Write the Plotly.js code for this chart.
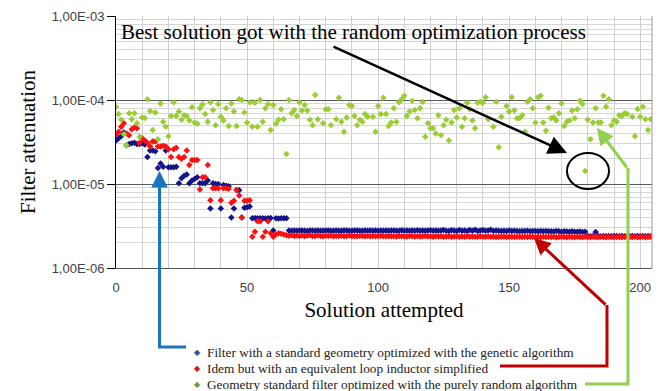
<!DOCTYPE html>
<html><head><meta charset="utf-8">
<script src="https://cdn.plot.ly/plotly-3.0.1.min.js"></script>
<style>html,body{margin:0;padding:0;background:#fff}#chart{width:661px;height:391px}</style>
</head><body><div id="chart"></div>
<script>
// ---- data ----
const blueVals = [
 3.3e-5,3.5e-5,3.7e-5,4.1e-5,2.9e-5,3.0e-5,3.05e-5,3.1e-5,3.0e-5,3.0e-5,
 3.05e-5,2.95e-5,2.1e-5,2.5e-5,2.5e-5,2.45e-5,1.55e-5,1.75e-5,1.6e-5,2.5e-5,
 1.58e-5,1.58e-5,1.58e-5,1.6e-5,1.02e-5,1.17e-5,1.25e-5,1.3e-5,1.02e-5,1.1e-5,
 1.15e-5,1.2e-5,1.02e-5,1.02e-5,1.02e-5,1.1e-5,5.1e-6,1.02e-5,1.0e-5,1.0e-5,
 5.1e-6,9.7e-6,9.5e-6,9.4e-6,4.0e-6,5.1e-6,8.5e-6,8.4e-6,4.0e-6,5.2e-6,
 5.3e-6,5.4e-6,3.9e-6,3.95e-6,3.9e-6,3.92e-6,3.9e-6,3.88e-6,3.9e-6,3.93e-6,
 2.8e-6,3.9e-6,3.88e-6,3.9e-6,3.92e-6,3.9e-6,
 2.8e-6,2.78e-6,2.8e-6,2.77e-6,2.79e-6,2.8e-6,2.78e-6,2.76e-6,2.8e-6,2.79e-6,
 2.78e-6,2.8e-6,2.77e-6,2.78e-6,2.8e-6,2.79e-6,2.77e-6,2.78e-6,2.8e-6,2.78e-6,
 2.77e-6,2.79e-6,2.8e-6,2.78e-6,2.77e-6,2.8e-6,2.79e-6,2.78e-6,2.77e-6,2.8e-6,
 2.78e-6,2.79e-6,2.77e-6,2.8e-6,2.78e-6,2.79e-6,2.77e-6,2.8e-6,2.78e-6,2.79e-6,
 2.8e-6,2.77e-6,2.78e-6,2.82e-6,2.78e-6,2.79e-6,2.77e-6,2.8e-6,2.78e-6,2.81e-6,
 2.78e-6,2.8e-6,2.77e-6,2.79e-6,2.82e-6,2.78e-6,2.8e-6,2.77e-6,2.79e-6,2.83e-6,
 2.78e-6,2.76e-6,2.82e-6,2.79e-6,2.75e-6,2.84e-6,2.78e-6,2.8e-6,2.76e-6,2.83e-6,
 2.78e-6,2.85e-6,2.76e-6,2.8e-6,2.84e-6,2.77e-6,2.79e-6,2.86e-6,2.76e-6,2.8e-6,
 2.77e-6,2.75e-6,2.78e-6,2.76e-6,2.79e-6,2.75e-6,2.77e-6,2.76e-6,2.74e-6,2.76e-6,
 2.75e-6,2.77e-6,2.74e-6,2.76e-6,2.75e-6,2.73e-6,2.76e-6,2.74e-6,2.75e-6,2.73e-6,
 2.74e-6,2.72e-6,2.75e-6,2.73e-6,2.71e-6,2.74e-6,2.72e-6,2.7e-6,2.73e-6,2.71e-6,
 2.7e-6,2.72e-6,2.69e-6,2.71e-6,2.4e-6,2.39e-6,2.41e-6,2.68e-6,
 2.4e-6,2.39e-6,2.41e-6,2.38e-6,2.4e-6,2.39e-6,2.41e-6,2.4e-6,2.38e-6,2.4e-6,
 2.39e-6,2.41e-6,2.38e-6,2.4e-6,2.39e-6,2.4e-6,2.38e-6,2.41e-6,2.39e-6,2.4e-6,2.38e-6
];
const redVals = [
 3.9e-5,4.2e-5,4.8e-5,5.3e-5,4.0e-5,3.8e-5,4.5e-5,4.7e-5,4.6e-5,3.1e-5,
 3.5e-5,3.3e-5,3.1e-5,2.8e-5,3.2e-5,3.2e-5,2.8e-5,2.8e-5,2.85e-5,2.8e-5,
 2.6e-5,2.1e-5,2.6e-5,2.7e-5,2.1e-5,2.0e-5,2.1e-5,2.5e-5,1.68e-5,1.93e-5,
 1.93e-5,1.93e-5,8.6e-6,1.2e-5,1.2e-5,1.68e-5,6.4e-6,8.9e-6,8.9e-6,8.9e-6,
 6.4e-6,8.9e-6,8.9e-6,8.8e-6,6.0e-6,6.3e-6,8.5e-6,7.3e-6,4.0e-6,6.3e-6,
 6.3e-6,6.4e-6,2.36e-6,2.7e-6,3.6e-6,3.6e-6,2.36e-6,2.7e-6,3.6e-6,2.6e-6,
 2.36e-6,2.5e-6,2.6e-6,2.55e-6,2.5e-6,2.45e-6,
 2.42e-6,2.45e-6,2.4e-6,2.43e-6,2.41e-6,2.44e-6,2.4e-6,2.42e-6,2.45e-6,2.41e-6,
 2.4e-6,2.43e-6,2.41e-6,2.39e-6,2.42e-6,2.4e-6,2.44e-6,2.39e-6,2.41e-6,2.4e-6,
 2.42e-6,2.39e-6,2.4e-6,2.43e-6,2.38e-6,2.41e-6,2.39e-6,2.4e-6,2.42e-6,2.38e-6,
 2.4e-6,2.39e-6,2.41e-6,2.38e-6,2.4e-6,2.42e-6,2.38e-6,2.39e-6,2.41e-6,2.38e-6,
 2.39e-6,2.37e-6,2.4e-6,2.38e-6,2.39e-6,2.37e-6,2.41e-6,2.38e-6,2.37e-6,2.39e-6,
 2.37e-6,2.38e-6,2.4e-6,2.37e-6,2.38e-6,2.36e-6,2.39e-6,2.37e-6,2.38e-6,2.36e-6,
 2.37e-6,2.39e-6,2.36e-6,2.37e-6,2.38e-6,2.36e-6,2.37e-6,2.35e-6,2.38e-6,2.36e-6,
 2.37e-6,2.35e-6,2.36e-6,2.38e-6,2.35e-6,2.36e-6,2.37e-6,2.35e-6,2.36e-6,2.34e-6,
 2.36e-6,2.35e-6,2.37e-6,2.34e-6,2.35e-6,2.36e-6,2.34e-6,2.35e-6,2.36e-6,2.34e-6,
 2.35e-6,2.34e-6,2.36e-6,2.35e-6,2.34e-6,2.35e-6,2.33e-6,2.35e-6,2.34e-6,2.36e-6,
 2.34e-6,2.35e-6,2.33e-6,2.34e-6,2.36e-6,2.34e-6,2.33e-6,2.35e-6,2.34e-6,2.33e-6,
 2.35e-6,2.34e-6,2.33e-6,2.35e-6,2.34e-6,2.33e-6,2.35e-6,2.34e-6,2.33e-6,2.35e-6,
 2.34e-6,2.33e-6,2.35e-6,2.34e-6,2.33e-6,2.34e-6,2.35e-6,2.33e-6,2.34e-6,2.35e-6,
 2.33e-6,2.34e-6,2.35e-6,2.33e-6,2.34e-6,2.35e-6,2.33e-6,2.34e-6,2.35e-6
];
const greenX = [
 0,1,2,3,4,5,6,7,8,9,10,11,12,13,14,15,16,17,18,19,20,21,22,23,24,25,26,27,28,29,
 30,31,32,33,34,35,36,37,38,39,40,41,42,43,44,45,46,47,48,49,50,51,52,53,54,55,56,57,58,59,
 60,61,62,63,64,65,66,67,68,69,70,71,72,73,74,75,76,77,79,80,81,82,84,85,86,87,88,89,
 90,91,92,93,94,95,96,98,99,100,101,102,103,104,105,106,107,108,109,110,111,112,113,114,115,116,117,118,119,
 120,121,122,123,124,125,126,127,128,129,130,131,132,133,134,135,136,137,138,139,140,141,142,144,145,146,147,149,
 150,151,152,153,154,155,156,157,158,159,160,161,162,163,164,165,166,167,168,169,170,171,172,173,174,175,176,177,178,179,
 180,181,182,183,184,185,186,187,188,189,190,191,192,193,194,195,197,198,199,200,201,202,203,204
];
const greenVals = [
 8.3e-5,6.8e-5,5.8e-5,3.9e-5,2.9e-5,6.95e-5,5.9e-5,6.95e-5,5.3e-5,3.66e-5,6.2e-5,6.1e-5,1.02e-4,7.4e-5,4.4e-5,7.1e-5,3.4e-5,9.1e-5,5.5e-5,4.8e-5,3.7e-5,6.45e-5,9.4e-5,6.45e-5,7.3e-5,5.8e-5,6.6e-5,6.45e-5,5.7e-5,8.2e-5,
 5.4e-5,5.2e-5,8.0e-5,8.9e-5,6.8e-5,5.5e-5,9.4e-5,7.6e-5,5.0e-5,8.96e-5,6.3e-5,5.7e-5,8.0e-5,4.9e-5,9.1e-5,7.3e-5,4.9e-5,1.02e-4,1.0e-4,7.1e-5,5.4e-5,9.4e-5,4.8e-5,9.3e-5,4.8e-5,1.0e-4,5.5e-5,8.0e-5,8.96e-5,4.4e-5,
 8.7e-5,5.2e-5,5.8e-5,7.75e-5,5.9e-5,2.28e-5,1.0e-4,6.95e-5,7.6e-5,6.45e-5,9.4e-5,7.5e-5,8.7e-5,7.5e-5,5.8e-5,5.0e-5,1.15e-4,5.9e-5,5.3e-5,7.75e-5,7.75e-5,5.0e-5,5.9e-5,1.06e-4,5.5e-5,4.2e-5,6.2e-5,8.7e-5,
 8.5e-5,6.45e-5,5.0e-5,5.8e-5,5.5e-5,6.8e-5,6.3e-5,6.3e-5,4.2e-5,8.5e-5,6.8e-5,1.06e-4,6.8e-5,4.9e-5,5.4e-5,8.0e-5,5.5e-5,9.4e-5,1.02e-4,1.12e-4,6.45e-5,7.3e-5,9.8e-5,7.6e-5,6.05e-5,8.0e-5,9.5e-5,3.66e-5,5.3e-5,
 4.6e-5,4.6e-5,4.0e-5,6.6e-5,3.8e-5,5.0e-5,5.8e-5,3.3e-5,5.4e-5,7.6e-5,6.2e-5,8.0e-5,4.8e-5,6.05e-5,9.3e-5,7.75e-5,5.7e-5,4.6e-5,9.3e-5,9.5e-5,9.3e-5,1.08e-4,5.9e-5,4.8e-5,9.5e-5,2.74e-5,6.3e-5,8.5e-5,
 7.3e-5,1.08e-4,7.5e-5,6.05e-5,6.05e-5,6.6e-5,4.2e-5,9.5e-5,1.02e-4,8.0e-5,5.4e-5,1.08e-4,1.12e-4,5.4e-5,4.3e-5,8.1e-5,6.05e-5,6.2e-5,5.7e-5,6.95e-5,9.1e-5,4.9e-5,5.5e-5,5.7e-5,7.5e-5,6.05e-5,7.75e-5,9.8e-5,8.96e-5,1.43e-5,
 5.8e-5,3.4e-5,5.4e-5,8.0e-5,5.4e-5,5.4e-5,1.12e-4,8.3e-5,1.02e-4,5.0e-5,5.7e-5,5.5e-5,6.6e-5,6.45e-5,6.95e-5,6.8e-5,6.3e-5,3.7e-5,7.8e-5,6.3e-5,8.3e-5,5.9e-5,4.4e-5,5.9e-5
];
const seriesNames = [
 'Filter with a standard geometry optimized with the genetic algorithm',
 'Idem but with an equivalent loop inductor simplified',
 'Geometry standard filter optimized with the purely random algorithm'
];
const yTickVals = [1e-6, 1e-5, 1e-4, 1e-3];
const yTickText = ['1,00E-06', '1,00E-05', '1,00E-04', '1,00E-03'];
const xTickVals = [0, 50, 100, 150, 200];
const xTickText = ['0', '50', '100', '150', '200'];
const calloutText = 'Best solution got with the random optimization process';

// ---- styling / layout ----
const L = 116, T = 16, W = 536, H = 252;
const PX = x => (x - L) / W;
const PY = y => (T + H - y) / H;
const serif = 'Liberation Serif, Times New Roman, serif';
const sans = 'Liberation Sans, Arial, sans-serif';

const minorY = [];
[1e-6, 1e-5, 1e-4].forEach(d => { for (let k = 2; k <= 9; k++) minorY.push(k * d); });

const idx = blueVals.map((_, i) => i);
const idxR = redVals.map((_, i) => i);

const mk = (c) => ({symbol: 'diamond', size: 5, color: c, line: {width: 0}});
const traces = [
 {x: idx, y: blueVals, name: seriesNames[0], type: 'scatter', mode: 'markers', marker: mk('#14148a'), showlegend: false},
 {x: idxR, y: redVals, name: seriesNames[1], type: 'scatter', mode: 'markers', marker: mk('#ff1010'), showlegend: false},
 {x: greenX, y: greenVals, name: seriesNames[2], type: 'scatter', mode: 'markers', marker: mk('#9acd32'), showlegend: false}
];

const pathOf = pts => pts.map((p, i) => (i ? 'L' : 'M') + PX(p[0]).toFixed(4) + ',' + PY(p[1]).toFixed(4)).join(' ');

const shapes = [
 {type: 'line', xref: 'paper', yref: 'paper', x0: 1, x1: 1, y0: 0, y1: 1, line: {color: '#9a9a9a', width: 1}},
 {type: 'circle', xref: 'paper', yref: 'paper', x0: PX(567), x1: PX(609), y0: PY(189), y1: PY(153),
  line: {color: '#000', width: 2}},
 {type: 'path', xref: 'paper', yref: 'paper', path: pathOf([[159.5, 195], [159.5, 347], [186, 347]]), line: {color: '#1b75bc', width: 3}},
 {type: 'path', xref: 'paper', yref: 'paper', path: pathOf([[500, 366], [607, 366], [607, 305]]), line: {color: '#c00000', width: 3}},
 {type: 'path', xref: 'paper', yref: 'paper', path: pathOf([[585, 384], [628, 384], [628, 168]]), line: {color: '#92d050', width: 3}}
];

const arrow = (tip, tail, color, w, s) => ({
 xref: 'paper', yref: 'paper', x: PX(tip[0]), y: PY(tip[1]), ax: tail[0] - tip[0], ay: tail[1] - tip[1],
 text: '', showarrow: true, arrowhead: 2, arrowsize: s, arrowwidth: w, arrowcolor: color, standoff: 0, startstandoff: 0
});

const legendColors = ['#2e5597', '#d01818', '#6e9a3c'];
const legendY = [352, 368, 384];
const annotations = [
 {xref: 'paper', yref: 'paper', x: PX(119), y: PY(32), xanchor: 'left', yanchor: 'middle', showarrow: false,
  text: calloutText, font: {family: serif, size: 21, color: '#000'}},
 arrow([567, 153], [332, 46], '#000', 2.5, 1.5),
 arrow([159.5, 171], [159.5, 200], '#1b75bc', 3, 1.1),
 arrow([534, 238], [607, 306], '#c00000', 3, 1.1),
 arrow([597, 128], [628, 169], '#92d050', 3, 1.1)
];
seriesNames.forEach((n, i) => {
 annotations.push({xref: 'paper', yref: 'paper', x: PX(197), y: PY(legendY[i]), xanchor: 'center', yanchor: 'middle', showarrow: false,
  text: '◆', font: {family: 'DejaVu Sans', size: 8, color: legendColors[i]}});
 annotations.push({xref: 'paper', yref: 'paper', x: PX(205), y: PY(legendY[i]), xanchor: 'left', yanchor: 'middle', showarrow: false,
  text: n, font: {family: serif, size: 13.3, color: '#222'}});
});

const layout = {
 width: 661, height: 391,
 margin: {l: L, r: 661 - L - W, t: T, b: 391 - T - H, pad: 0},
 paper_bgcolor: '#fff', plot_bgcolor: '#fff',
 showlegend: false,
 xaxis: {
  range: [0, 204.5], tickmode: 'array', tickvals: xTickVals, ticktext: xTickText,
  showgrid: true, gridcolor: '#cfcfcf', gridwidth: 1, zeroline: false,
  minor: {dtick: 10, showgrid: true, gridcolor: '#cfcfcf', gridwidth: 1},
  showline: true, linecolor: '#555', linewidth: 1, ticks: '',
  tickfont: {family: sans, size: 13, color: '#404040'}, ticklabelstandoff: 7,
  title: {text: 'Solution attempted', font: {family: serif, size: 21, color: '#000'}, standoff: 8}
 },
 yaxis: {
  type: 'log', range: [-6, -3], tickmode: 'array', tickvals: yTickVals, ticktext: yTickText,
  showgrid: true, gridcolor: '#5a5a5a', gridwidth: 1,
  minor: {tickmode: 'array', tickvals: minorY, showgrid: true, gridcolor: '#d6d6d6', gridwidth: 1, ticks: ''},
  showline: true, linecolor: '#000', linewidth: 1, ticks: 'outside', ticklen: 8, tickcolor: '#000', tickwidth: 1,
  tickfont: {family: sans, size: 13, color: '#404040'},
  title: {text: 'Filter attenuation', font: {family: serif, size: 21, color: '#000'}, standoff: 10}
 },
 shapes: shapes,
 annotations: annotations
};

Plotly.newPlot('chart', traces, layout, {displayModeBar: false, staticPlot: true});
</script>
</body></html>
